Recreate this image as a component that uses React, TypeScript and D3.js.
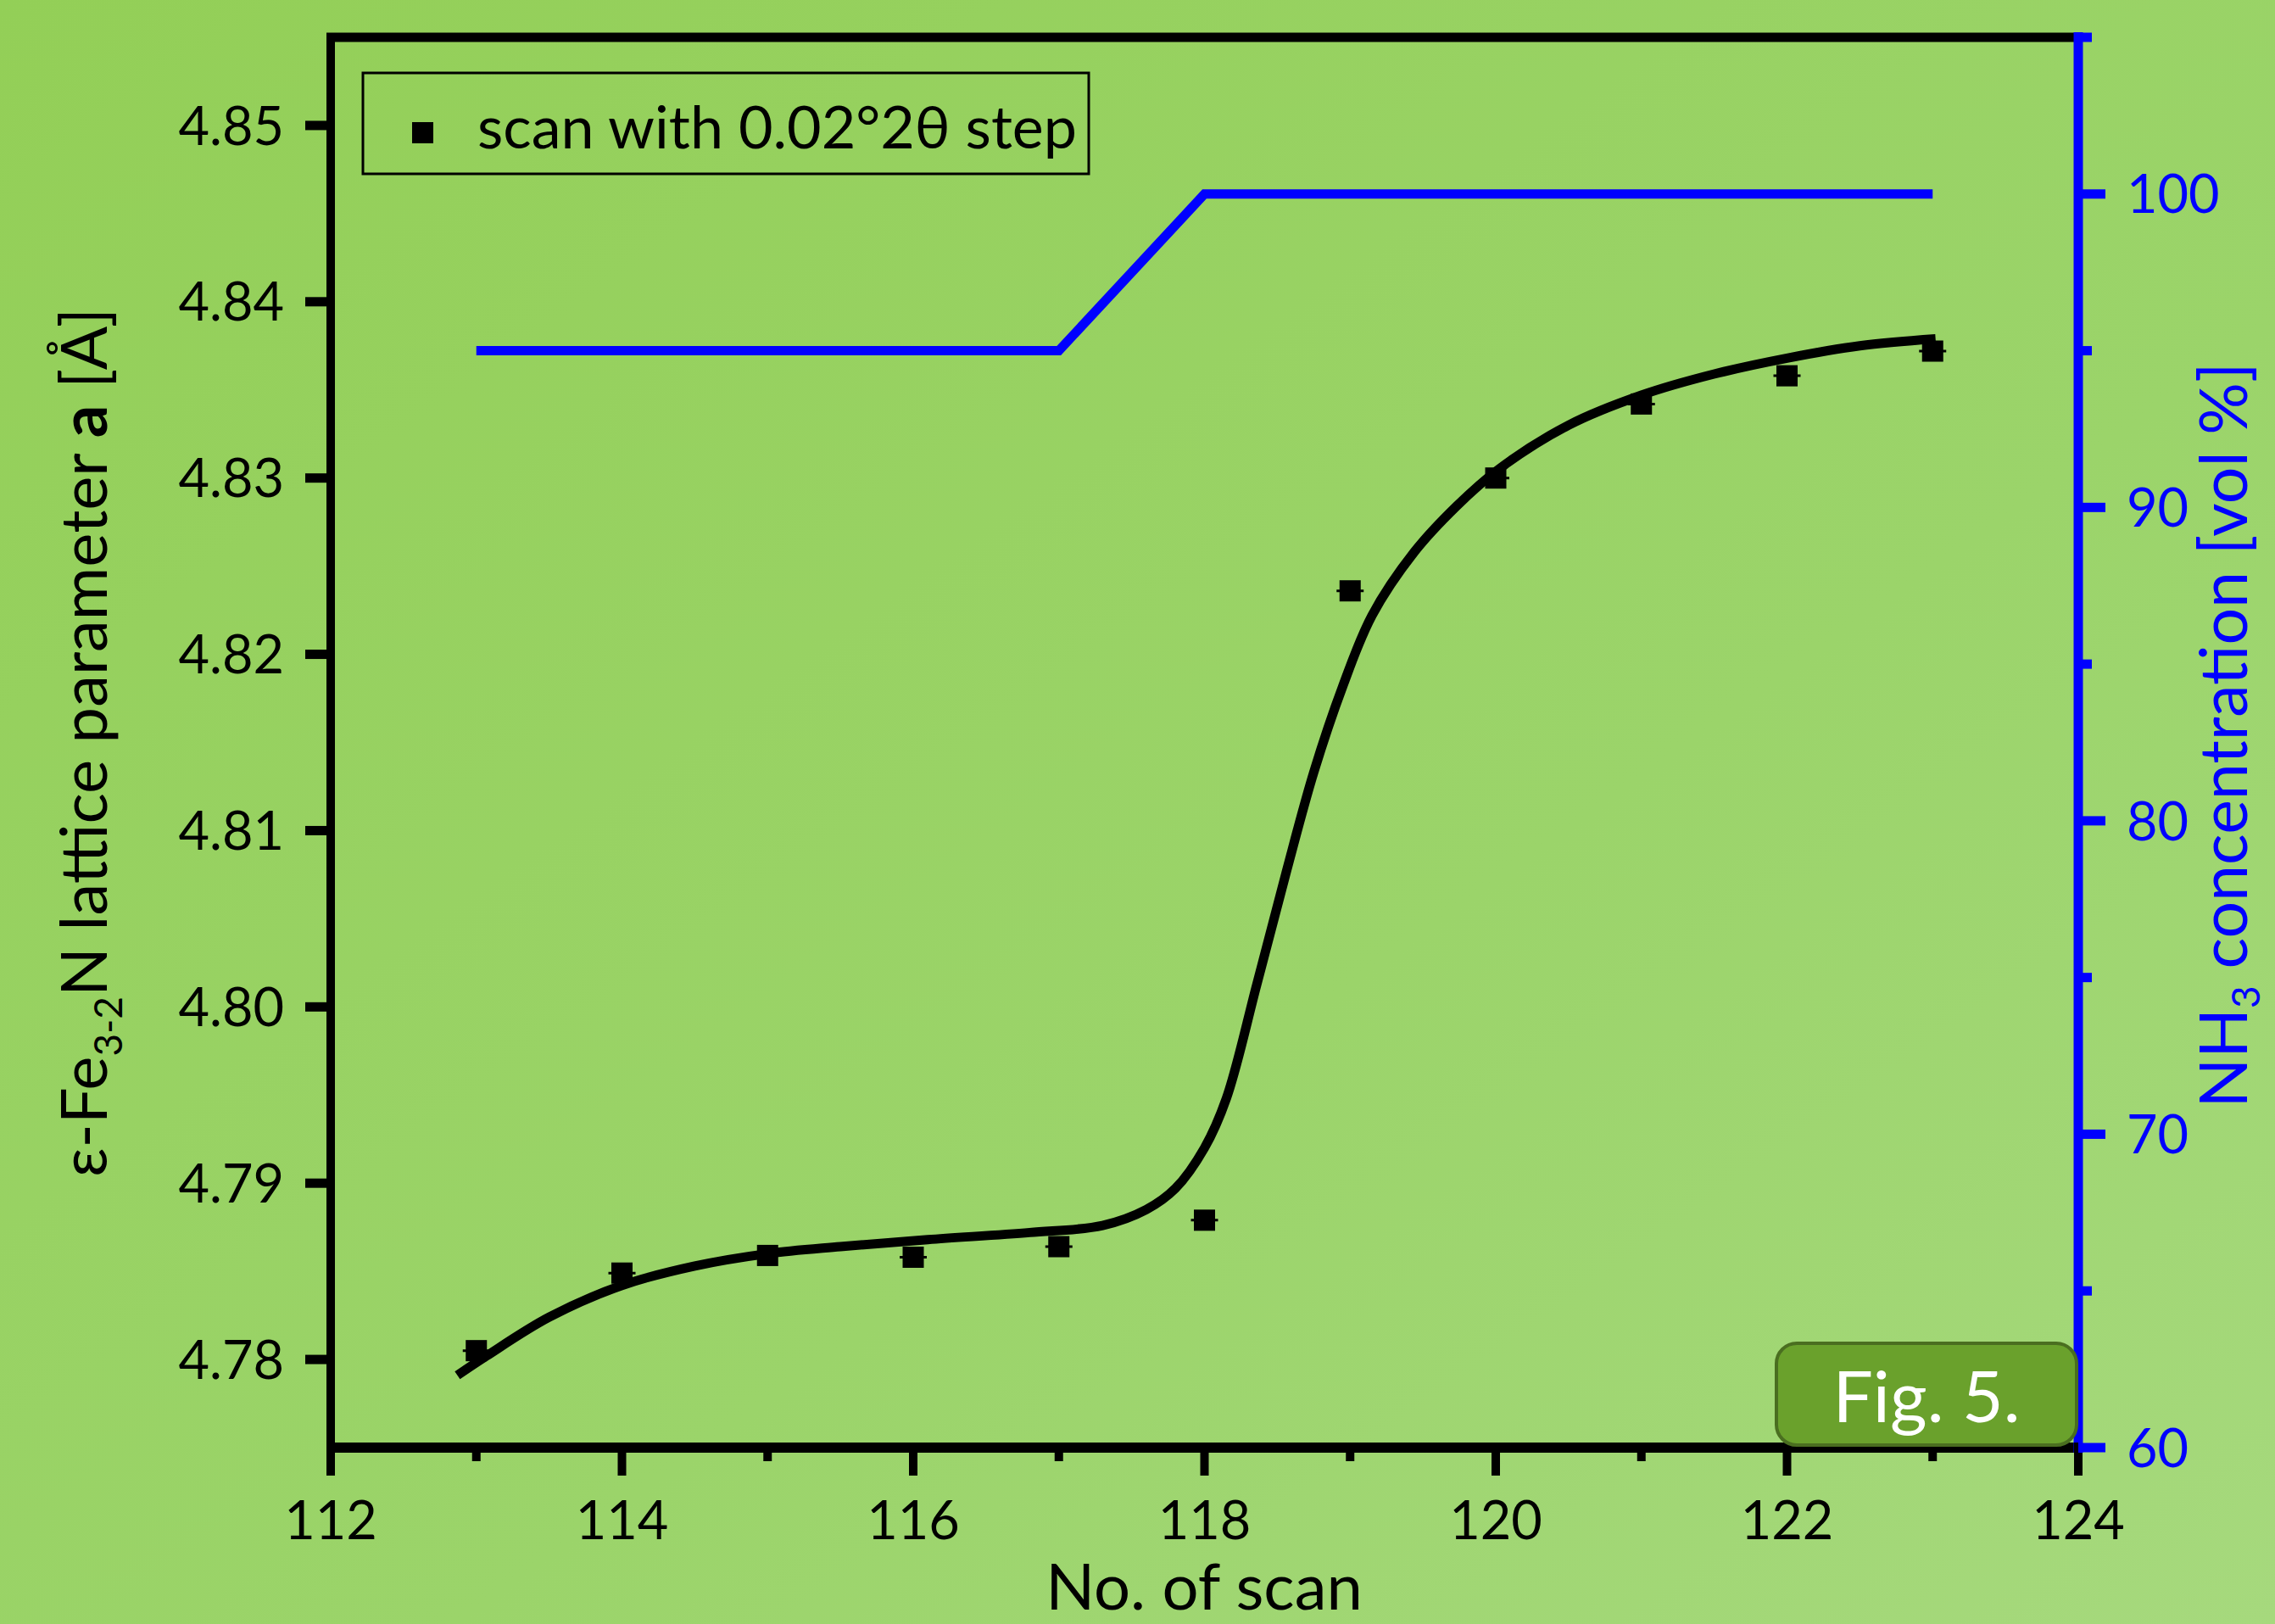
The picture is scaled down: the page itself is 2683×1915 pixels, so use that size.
import React from 'react';
import * as d3 from 'd3';

// measured lattice parameter per scan
const scanNo = [113, 114, 115, 116, 117, 118, 119, 120, 121, 122, 123];
const latticeA = [
  4.7805, 4.7849, 4.7859, 4.7858, 4.7864, 4.7879, 4.8236, 4.83, 4.8342,
  4.8358, 4.8372,
];

// fitted curve
const fitScan = [
  112.87, 113.07, 113.5, 114.0, 114.5, 115.0, 115.5, 116.1, 116.8, 117.3,
  117.6, 117.8, 118.0, 118.15, 118.36, 118.56, 118.75, 118.95, 119.15, 119.44,
  119.73, 120.02, 120.5, 121.0, 121.5, 122.0, 122.5, 123.02,
];
const fitA = [
  4.7791, 4.7802, 4.7824, 4.7842, 4.7853, 4.786, 4.7864, 4.7868, 4.7872,
  4.7876, 4.7885, 4.7897, 4.792, 4.7948, 4.8013, 4.8076, 4.8133, 4.8182,
  4.8222, 4.8258, 4.8284, 4.8305, 4.833, 4.8347, 4.8359, 4.8368, 4.8375,
  4.8379,
];

// NH3 concentration profile
const nh3Scan = [113, 117, 118, 123];
const nh3Conc = [95, 95, 100, 100];

const xMajor = [112, 114, 116, 118, 120, 122, 124];
const xMinor = [113, 115, 117, 119, 121, 123];
const leftTicks = [4.78, 4.79, 4.8, 4.81, 4.82, 4.83, 4.84, 4.85];
const rightMajor = [60, 70, 80, 90, 100];
const rightMinor = [65, 75, 85, 95, 105];

const legendLabel = 'scan with 0.02°2θ step';
const figLabel = 'Fig. 5.';

const W = 2683;
const H = 1915;
const m = { left: 390, right: 2451, top: 44, bottom: 1707 };
const font = "Lato, 'Open Sans', sans-serif";
const blue = '#0000ff';

export default function App() {
  const x = d3.scaleLinear().domain([112, 124]).range([m.left, m.right]);
  const y = d3.scaleLinear().domain([4.775, 4.855]).range([m.bottom, m.top]);
  const y2 = d3.scaleLinear().domain([60, 105]).range([m.bottom, m.top]);

  const fitLine = d3
    .line<number>()
    .x((d, i) => x(fitScan[i]))
    .y((d) => y(d))
    .curve(d3.curveCatmullRom.alpha(0.5));

  const nh3Line = d3
    .line<number>()
    .x((d, i) => x(nh3Scan[i]))
    .y((d) => y2(d));

  const fmt = d3.format('.2f');
  const sq = 25;

  return (
    <div>
      <style>{'body{margin:0}'}</style>
      <svg width={W} height={H} style={{ display: 'block' }} fontFamily={font}>
        <defs>
          <linearGradient id="bg" x1="0" y1="0" x2="1" y2="1">
            <stop offset="0" stopColor="#93cf57" />
            <stop offset="0.6" stopColor="#9bd46a" />
            <stop offset="1" stopColor="#a6d97d" />
          </linearGradient>
        </defs>
        <rect width={W} height={H} fill="url(#bg)" />

        {/* NH3 line */}
        <path
          d={nh3Line(nh3Conc) || ''}
          fill="none"
          stroke={blue}
          strokeWidth={11}
        />

        {/* fit */}
        <path
          d={fitLine(fitA) || ''}
          fill="none"
          stroke="#000"
          strokeWidth={11}
        />

        {/* points with tiny error caps */}
        {scanNo.map((s, i) => (
          <g key={s}>
            <rect
              x={x(s) - sq / 2}
              y={y(latticeA[i]) - sq / 2}
              width={sq}
              height={sq}
              fill="#000"
            />
            <line
              x1={x(s) - 16}
              x2={x(s) + 16}
              y1={y(latticeA[i])}
              y2={y(latticeA[i])}
              stroke="#000"
              strokeWidth={3}
            />
          </g>
        ))}

        {/* frame: top */}
        <line x1={m.left - 5} x2={m.right} y1={m.top} y2={m.top} stroke="#000" strokeWidth={11} />

        {/* left axis */}
        <line x1={m.left} x2={m.left} y1={m.top - 5} y2={m.bottom + 33} stroke="#000" strokeWidth={10} />
        {leftTicks.map((t) => (
          <g key={t}>
            <line x1={m.left - 30} x2={m.left} y1={y(t)} y2={y(t)} stroke="#000" strokeWidth={11} />
            <text x={m.left - 55} y={y(t)} dy="0.36em" textAnchor="end" fontSize={63} fill="#000">
              {fmt(t)}
            </text>
          </g>
        ))}

        {/* bottom axis */}
        <line x1={m.left - 5} x2={m.right} y1={m.bottom} y2={m.bottom} stroke="#000" strokeWidth={12} />
        {xMajor.map((t) => (
          <g key={t}>
            <line x1={x(t)} x2={x(t)} y1={m.bottom} y2={m.bottom + 33} stroke="#000" strokeWidth={10} />
            <text x={x(t)} y={1815} textAnchor="middle" fontSize={63} fill="#000">
              {t}
            </text>
          </g>
        ))}
        {xMinor.map((t) => (
          <line key={t} x1={x(t)} x2={x(t)} y1={m.bottom} y2={m.bottom + 16} stroke="#000" strokeWidth={10} />
        ))}

        {/* right axis */}
        <line x1={m.right} x2={m.right} y1={m.top - 6} y2={m.bottom + 6} stroke={blue} strokeWidth={11} />
        {rightMajor.map((t) => (
          <g key={t}>
            <line x1={m.right} x2={m.right + 32} y1={y2(t)} y2={y2(t)} stroke={blue} strokeWidth={11} />
            <text x={m.right + 57} y={y2(t)} dy="0.36em" fontSize={63} fill={blue}>
              {t}
            </text>
          </g>
        ))}
        {rightMinor.map((t) => (
          <line key={t} x1={m.right} x2={m.right + 16} y1={y2(t)} y2={y2(t)} stroke={blue} strokeWidth={11} />
        ))}
        <line x1={m.right - 5} x2={m.right} y1={m.bottom} y2={m.bottom} stroke="#000" strokeWidth={12} />

        {/* axis titles */}
        <text x={1420} y={1898} textAnchor="middle" fontSize={76} fill="#000">
          No. of scan
        </text>
        <text
          transform={`translate(126,${(m.top + m.bottom) / 2}) rotate(-90)`}
          textAnchor="middle"
          fontSize={76}
          fill="#000"
        >
          ε-Fe
          <tspan fontSize={46} dy={18}>3-2</tspan>
          <tspan dy={-18}>N lattice parameter </tspan>
          <tspan fontWeight="bold">a</tspan>
          <tspan> [Å]</tspan>
        </text>
        <text
          transform={`translate(2650,867) rotate(-90)`}
          textAnchor="middle"
          fontSize={77}
          fill={blue}
        >
          NH
          <tspan fontSize={46} dy={15}>3</tspan>
          <tspan dy={-15}> concentration [vol %]</tspan>
        </text>

        {/* legend */}
        <rect x={428} y={86} width={856} height={119} fill="none" stroke="#000" strokeWidth={3} />
        <rect x={486} y={144} width={sq} height={sq} fill="#000" />
        <text x={563} y={175} fontSize={70} fill="#000">
          {legendLabel}
        </text>

        {/* figure badge */}
        <rect x={2095} y={1584} width={354} height={120} rx={24} fill="#6aa12c" stroke="#4a6e20" strokeWidth={4} />
        <text x={2272} y={1677} textAnchor="middle" fontSize={84} fill="#fff">
          {figLabel}
        </text>
      </svg>
    </div>
  );
}
